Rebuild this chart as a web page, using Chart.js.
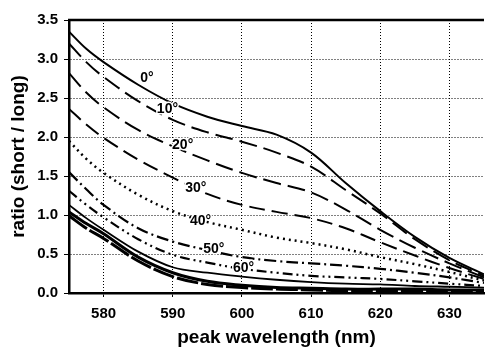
<!DOCTYPE html>
<html>
<head>
<meta charset="utf-8">
<script src="https://cdn.jsdelivr.net/npm/chart.js@4/dist/chart.umd.min.js"></script>
<style>
  html, body { margin: 0; padding: 0; background: #fff; }
  #wrap { width: 486px; height: 347px; }
</style>
</head>
<body>
<div id="wrap"><canvas id="c" width="486" height="347"></canvas></div>
<script>
// Wavelength samples (nm) shared by every curve
const wavelengths = [575, 577.5, 580, 585, 590, 595, 600, 605, 610, 615, 620, 625, 630, 635];

// Short/long ratio per viewing angle
const ratio0  = [3.35, 3.13, 2.96, 2.67, 2.43, 2.26, 2.14, 2.03, 1.80, 1.41, 1.05, 0.72, 0.45, 0.24];
const ratio10 = [3.20, 2.96, 2.77, 2.46, 2.22, 2.06, 1.94, 1.80, 1.62, 1.32, 1.02, 0.69, 0.42, 0.22];
const ratio20 = [2.82, 2.57, 2.38, 2.09, 1.88, 1.70, 1.54, 1.41, 1.29, 1.07, 0.81, 0.58, 0.38, 0.20];
const ratio30 = [2.36, 2.16, 1.99, 1.71, 1.48, 1.27, 1.13, 1.04, 0.96, 0.83, 0.65, 0.48, 0.32, 0.18];
const ratio40 = [1.95, 1.72, 1.54, 1.26, 1.05, 0.91, 0.81, 0.71, 0.64, 0.56, 0.46, 0.37, 0.27, 0.16];
const ratio50 = [1.55, 1.33, 1.13, 0.83, 0.66, 0.55, 0.46, 0.41, 0.38, 0.35, 0.31, 0.26, 0.20, 0.13];
const ratio60 = [1.31, 1.13, 0.97, 0.69, 0.49, 0.39, 0.31, 0.26, 0.22, 0.20, 0.18, 0.15, 0.12, 0.09];
const ratio70 = [1.13, 0.96, 0.81, 0.53, 0.33, 0.26, 0.21, 0.17, 0.14, 0.12, 0.11, 0.09, 0.08, 0.07];
const ratio80 = [1.04, 0.89, 0.76, 0.46, 0.26, 0.15, 0.10, 0.07, 0.06, 0.05, 0.05, 0.05, 0.04, 0.04];
const ratio90 = [0.99, 0.83, 0.70, 0.41, 0.21, 0.11, 0.07, 0.05, 0.04, 0.03, 0.03, 0.03, 0.03, 0.03];

// Axis ticks
const xTicks = [580, 590, 600, 610, 620, 630];
const yTicks = [0, 0.5, 1, 1.5, 2, 2.5, 3, 3.5];

// Angle labels written next to the curves
const angleLabels = ['0°', '10°', '20°', '30°', '40°', '50°', '60°'];

const FONT = "'Liberation Sans', Arial, sans-serif";

function pts(values) {
  return wavelengths.map((w, i) => ({ x: w, y: values[i] }));
}

const seriesDefs = [
  { label: '0°',  data: ratio0,  width: 2.0, dash: [] },
  { label: '10°', data: ratio10, width: 2.0, dash: [18, 7] },
  { label: '20°', data: ratio20, width: 2.0, dash: [18, 7] },
  { label: '30°', data: ratio30, width: 2.0, dash: [16, 7] },
  { label: '40°', data: ratio40, width: 2.5, dash: [2, 4] },
  { label: '50°', data: ratio50, width: 2.2, dash: [12, 4, 2, 4] },
  { label: '60°', data: ratio60, width: 2.2, dash: [10, 4, 2, 4, 2, 4] },
  { label: '70°', data: ratio70, width: 1.8, dash: [] },
  { label: '80°', data: ratio80, width: 3.0, dash: [] },
  { label: '90°', data: ratio90, width: 3.0, dash: [22, 3] }
];

// Text placed beside the curves, anchored in data units (left edge, baseline)
const angleLabelPlugin = {
  id: 'angleLabels',
  afterDatasetsDraw(chart) {
    const { ctx, scales: { x, y } } = chart;
    const anchors = [
      [585.3, 2.70], [587.7, 2.31], [589.9, 1.85], [591.8, 1.30],
      [592.5, 0.87], [594.4, 0.51], [598.7, 0.27]
    ];
    ctx.save();
    ctx.font = 'bold 14px ' + FONT;
    ctx.textAlign = 'left';
    ctx.textBaseline = 'alphabetic';
    angleLabels.forEach((t, i) => {
      const px = x.getPixelForValue(anchors[i][0]);
      const py = y.getPixelForValue(anchors[i][1]);
      ctx.lineWidth = 3;
      ctx.strokeStyle = '#fff';
      ctx.strokeText(t, px, py);
      ctx.fillStyle = '#000';
      ctx.fillText(t, px, py);
    });
    ctx.restore();
  }
};

// Heavy frame line along the top of the plot area
const topFramePlugin = {
  id: 'topFrame',
  afterDraw(chart) {
    const { ctx, chartArea: a } = chart;
    ctx.save();
    ctx.strokeStyle = '#000';
    ctx.lineWidth = 2.5;
    ctx.beginPath();
    ctx.moveTo(a.left - 1, a.top);
    ctx.lineTo(a.right, a.top);
    ctx.stroke();
    ctx.restore();
  }
};

new Chart(document.getElementById('c'), {
  type: 'line',
  data: {
    datasets: seriesDefs.map(s => ({
      label: s.label,
      data: pts(s.data),
      borderColor: '#000',
      backgroundColor: '#000',
      borderWidth: s.width,
      borderDash: s.dash,
      pointRadius: 0,
      fill: false,
      tension: 0.35
    }))
  },
  options: {
    responsive: false,
    animation: false,
    devicePixelRatio: 1,
    layout: { padding: { top: 20, right: 2, left: 0, bottom: 0 } },
    plugins: { legend: { display: false }, tooltip: { enabled: false } },
    scales: {
      x: {
        type: 'linear',
        min: 575,
        max: 635,
        afterBuildTicks: s => { s.ticks = xTicks.map(v => ({ value: v })); },
        afterFit: s => { s.height = 54; },
        grid: { color: '#000', lineWidth: 1, drawTicks: true, tickLength: 4, tickColor: '#000' },
        border: { display: true, color: '#000', width: 2.5, dash: [1, 2] },
        ticks: {
          color: '#000',
          padding: 8,
          maxRotation: 0,
          font: { family: FONT, size: 15, weight: 'bold' }
        },
        title: {
          display: true,
          text: 'peak wavelength (nm)',
          color: '#000',
          padding: { top: 0, bottom: -2 },
          font: { family: FONT, size: 19, weight: 'bold' }
        }
      },
      y: {
        type: 'linear',
        min: 0,
        max: 3.5,
        afterBuildTicks: s => { s.ticks = yTicks.map(v => ({ value: v })); },
        afterFit: s => { s.width = 69; },
        grid: { color: '#000', lineWidth: 1, drawTicks: true, tickLength: 5, tickColor: '#000' },
        border: { display: true, color: '#000', width: 2.5, dash: [1, 2] },
        ticks: {
          color: '#000',
          padding: 6,
          callback: v => Number(v).toFixed(1),
          font: { family: FONT, size: 15, weight: 'bold' }
        },
        title: {
          display: true,
          text: 'ratio (short / long)',
          color: '#000',
          padding: { top: 7, bottom: 0 },
          font: { family: FONT, size: 19, weight: 'bold' }
        }
      }
    }
  },
  plugins: [angleLabelPlugin, topFramePlugin]
});
</script>
</body>
</html>
